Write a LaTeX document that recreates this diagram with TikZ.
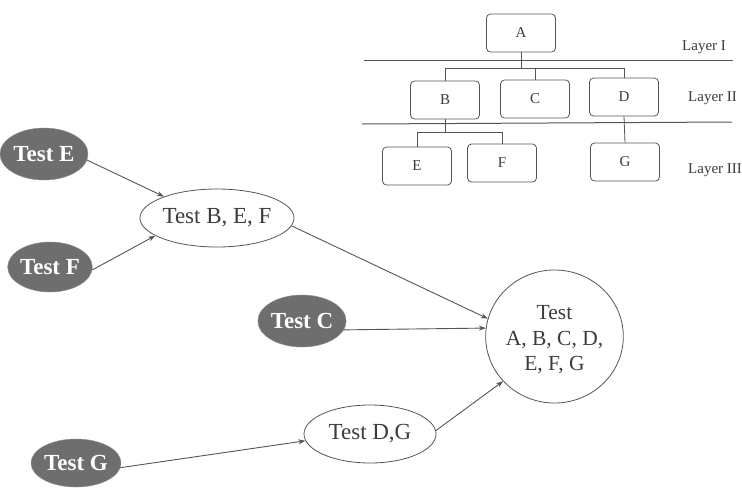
\documentclass[tikz,border=0pt]{standalone}
\usepackage{fontspec}
\setmainfont{Liberation Serif}
\usetikzlibrary{shapes.geometric,arrows.meta}
\definecolor{linegray}{HTML}{555555}
\definecolor{txtgray}{HTML}{3C3C3C}
\definecolor{darkfill}{HTML}{6E6E6E}
\begin{document}
\begin{tikzpicture}[x=1pt,y=-1pt,
  box/.style={draw=linegray, line width=0.8pt, rounded corners=4pt, minimum width=69pt, minimum height=38pt, inner sep=0pt, font=\fontsize{15}{15}\selectfont, text=txtgray},
  dark/.style={ellipse, fill=darkfill, draw=darkfill!80, inner sep=0pt, text=white, font=\fontsize{23}{23}\selectfont\bfseries},
  light/.style={ellipse, draw=linegray, line width=0.8pt, inner sep=0pt, text=txtgray, font=\fontsize{23}{23}\selectfont},
  arr/.style={-{Stealth[length=7pt,width=5pt]}, draw=linegray, line width=0.9pt},
  tree/.style={draw=linegray, line width=0.8pt},
  sep/.style={draw=linegray, line width=1pt},
  lay/.style={anchor=west, font=\fontsize{15}{15}\selectfont, text=txtgray, inner sep=0pt}
]
\fill[white] (0,0) rectangle (742,488);
\useasboundingbox (0,0) rectangle (742,488);

% hierarchy
\node[box] (na) at (521,33) {A};
\node[box] (nb) at (445,100) {B};
\node[box] (nc) at (535,99) {C};
\node[box] (nd) at (624,97) {D};
\node[box] (ne) at (417,166) {E};
\node[box] (nf) at (502,163) {F};
\node[box] (ng) at (625,162) {G};

\coordinate (j1) at (521,68);
\coordinate (j2) at (445,132);
\draw[tree] (na.south) -- (j1);
\draw[tree] (nb.north) |- (nd.north |- j1) -- (nd.north);
\draw[tree] (nc.north) -- (nc.north |- j1);
\draw[tree] (nb.south) -- (j2);
\draw[tree] (ne.north) |- (nf.north |- j2) -- (nf.north);
\draw[tree] (nd.south) -- (ng.north);

\draw[sep] (364,60) -- (733,60);
\draw[sep] (362,124) -- (732,122);

\node[lay] (l1) at (682,47) {Layer I};
\node[lay] (l2) at (688,98) {Layer II};
\node[lay] (l3) at (688,170) {Layer III};

% test graph
\node[dark, minimum width=88pt, minimum height=52pt] (te) at (44,154) {Test E};
\node[dark, minimum width=78pt, minimum height=50pt] (tf) at (50,267) {Test F};
\node[dark, minimum width=78pt, minimum height=52pt] (tc) at (302,321) {Test C};
\node[dark, minimum width=78pt, minimum height=48pt] (tg) at (76,463) {Test G};

\node[light, minimum width=132pt, minimum height=58pt] (bef) at (217,218) {Test B, E, F};
\node[light, minimum width=132pt, minimum height=58pt] (dg) at (370,434) {Test D,G};
\node[light, minimum width=129pt, minimum height=133pt, align=center, font=\fontsize{21.5}{25.5}\selectfont] (all) at (554.5,336.5) {\rule{0pt}{20.5pt}Test\\A, B, C, D,\\E, F, G};

\draw[arr] (te.-8) -- (bef.158);
\draw[arr] (tf.-4) -- (bef.-164);
\draw[arr] (bef.-6) -- (all.165);
\draw[arr] (tc.-12) -- (all.173);
\draw[arr] (tg.-6) -- (dg.-174);
\draw[arr] (dg.3) -- (all.-139);
\end{tikzpicture}
\end{document}
